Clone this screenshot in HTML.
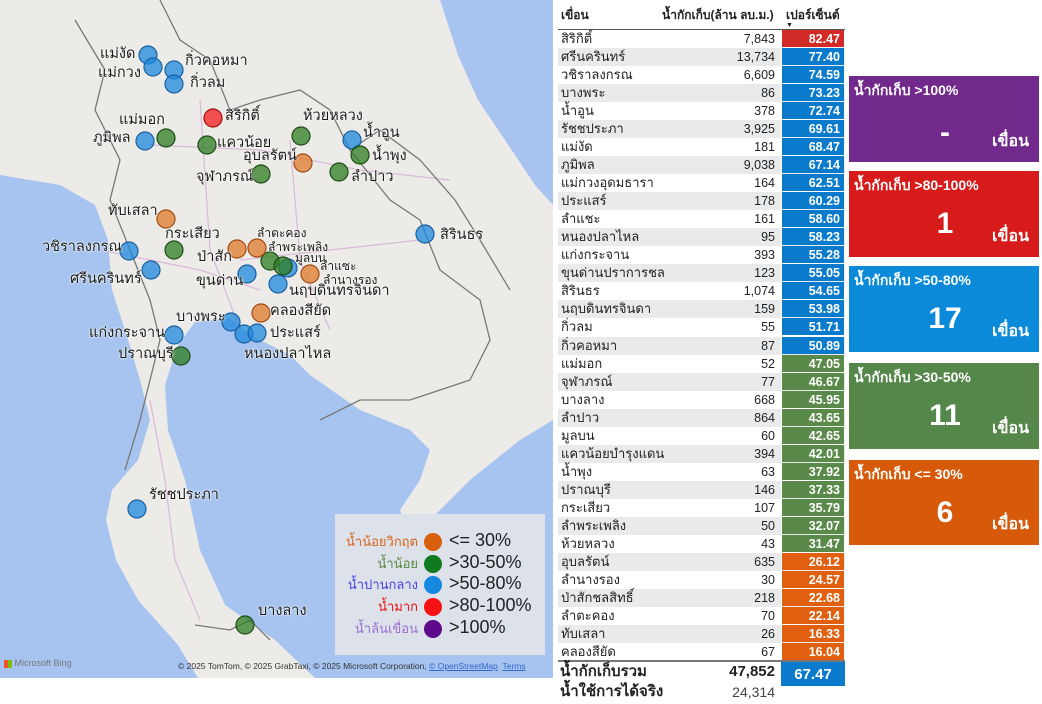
<!DOCTYPE html>
<html><head><meta charset="utf-8">
<style>
*{margin:0;padding:0;box-sizing:border-box}
body{width:1042px;height:704px;background:#fff;position:relative;overflow:hidden;font-family:"Liberation Sans","DejaVu Sans","Noto Sans CJK SC",sans-serif;color:#222}
.lbl{position:absolute;font-size:14.5px;color:#1a1a1a;white-space:nowrap;line-height:1;text-shadow:0 0 2px #fff,0 0 2px #fff}
.sm{font-size:12px}
.row{position:absolute;left:558px;width:287px;height:18px;font-size:13px;line-height:18px}
.row .n{position:absolute;left:3px}
.row .v{position:absolute;right:70px;font-size:12.5px}
.row .p{position:absolute;left:223px;width:63px;top:0;height:17px;color:#fff;font-weight:bold;text-align:right;padding-right:4px;font-size:12.5px;border-left:1px solid #fff}
.card{position:absolute;left:849px;width:190px;color:#fff;font-weight:bold}
.card .t{position:absolute;left:5px;top:4px;font-size:14px}
.card .num{position:absolute;left:0;width:192px;text-align:center;top:36px;font-size:30px;font-weight:bold}
.card .u{position:absolute;right:10px;bottom:8px;font-size:16px}
</style></head><body>
<svg width="553" height="678" style="position:absolute;left:0;top:0">
<rect width="553" height="678" fill="#ecebe7"/>
<path d="M0,175 L60,185 L95,205 L108,240 L112,290 L125,330 L140,380 L150,420 L138,460 L112,490 L106,520 L116,560 L138,600 L178,645 L198,678 L0,678Z" fill="#a6c4ef"/>
<path d="M165,385 L178,345 L195,322 L230,318 L250,335 L290,355 L310,375 L360,410 L410,430 L430,450 L420,480 L400,510 L405,525 L430,520 L470,480 L520,440 L553,420 L553,678 L315,678 L275,640 L225,605 L200,550 L185,480 L168,430Z" fill="#a6c4ef"/>
<path d="M440,0 L553,0 L553,205 L535,185 L505,140 L478,100 L458,55Z" fill="#a6c4ef"/>
<g fill="none" stroke="#d9b8d9" stroke-width="1.2">
<path d="M150,145 L260,150 L360,170 L450,180"/><path d="M200,100 L210,250 L240,330"/><path d="M240,260 L330,250 L420,240"/><path d="M290,140 L300,260 L330,330"/><path d="M100,250 L200,270 L260,290"/><path d="M150,400 L165,480 L175,560 L200,620"/>
</g>
<g fill="none" stroke="#777" stroke-width="1.3">
<path d="M75,20 L105,70 L95,110 L120,160 L110,200 L130,250 L150,300 L160,340 L150,380 L140,420 L125,470"/>
<path d="M160,0 L180,40 L210,60 L230,110 L260,100 L300,90 L330,110 L350,150 L390,200 L420,220 L440,270 L480,300 L490,340 L470,380 L410,400 L360,400 L320,420"/>
<path d="M350,150 L380,130 L420,160 L455,200 L480,240 L510,290"/>
<path d="M195,625 L230,630 L250,620 L270,640"/>
</g>
<g stroke-width="1.2" fill-opacity="0.75">
<g fill="#1e88dd" stroke="#1a5fa0">
<circle cx="148" cy="55" r="9"/><circle cx="153" cy="67" r="9"/><circle cx="174" cy="70" r="9"/><circle cx="174" cy="84" r="9"/>
<circle cx="145" cy="141" r="9"/><circle cx="352" cy="140" r="9"/><circle cx="129" cy="251" r="9"/><circle cx="151" cy="270" r="9"/>
<circle cx="288" cy="268" r="9"/><circle cx="247" cy="274" r="9"/><circle cx="278" cy="284" r="9"/><circle cx="231" cy="322" r="9"/>
<circle cx="244" cy="334" r="9"/><circle cx="257" cy="333" r="9"/><circle cx="174" cy="335" r="9"/><circle cx="425" cy="234" r="9"/><circle cx="137" cy="509" r="9"/>
</g>
<g fill="#2e7d22" stroke="#1e4a15">
<circle cx="166" cy="138" r="9"/><circle cx="207" cy="145" r="9"/><circle cx="301" cy="136" r="9"/><circle cx="360" cy="155" r="9"/>
<circle cx="339" cy="172" r="9"/><circle cx="261" cy="174" r="9"/><circle cx="174" cy="250" r="9"/><circle cx="270" cy="261" r="9"/>
<circle cx="283" cy="266" r="9"/><circle cx="181" cy="356" r="9"/><circle cx="245" cy="625" r="9"/>
</g>
<g fill="#e07a2a" stroke="#a04a10">
<circle cx="303" cy="163" r="9"/><circle cx="166" cy="219" r="9"/><circle cx="237" cy="249" r="9"/><circle cx="257" cy="248" r="9"/>
<circle cx="310" cy="274" r="9"/><circle cx="261" cy="313" r="9"/>
</g>
<circle cx="213" cy="118" r="9" fill="#f21b1b" stroke="#a01010"/>
</g>
</svg>
<div class="lbl" style="left:100px;top:47px">แม่งัด</div>
<div class="lbl" style="left:98px;top:66px">แม่กวง</div>
<div class="lbl" style="left:185px;top:54px">กิ่วคอหมา</div>
<div class="lbl" style="left:190px;top:76px">กิ่วลม</div>
<div class="lbl" style="left:225px;top:109px">สิริกิติ์</div>
<div class="lbl" style="left:119px;top:113px">แม่มอก</div>
<div class="lbl" style="left:93px;top:131px">ภูมิพล</div>
<div class="lbl" style="left:217px;top:136px">แควน้อย</div>
<div class="lbl" style="left:303px;top:109px">ห้วยหลวง</div>
<div class="lbl" style="left:363px;top:126px">น้ำอูน</div>
<div class="lbl" style="left:372px;top:149px">น้ำพุง</div>
<div class="lbl" style="left:243px;top:149px">อุบลรัตน์</div>
<div class="lbl" style="left:351px;top:170px">ลำปาว</div>
<div class="lbl" style="left:196px;top:170px">จุฬาภรณ์</div>
<div class="lbl" style="left:108px;top:204px">ทับเสลา</div>
<div class="lbl" style="left:165px;top:227px">กระเสียว</div>
<div class="lbl" style="left:42px;top:240px">วชิราลงกรณ</div>
<div class="lbl" style="left:70px;top:272px">ศรีนครินทร์</div>
<div class="lbl" style="left:197px;top:250px">ป่าสัก</div>
<div class="lbl sm" style="left:257px;top:227px">ลำตะคอง</div>
<div class="lbl sm" style="left:268px;top:241px">ลำพระเพลิง</div>
<div class="lbl sm" style="left:295px;top:252px">มูลบน</div>
<div class="lbl sm" style="left:320px;top:260px">ลำแซะ</div>
<div class="lbl sm" style="left:323px;top:274px">ลำนางรอง</div>
<div class="lbl" style="left:289px;top:284px">นฤบดินทรจินดา</div>
<div class="lbl" style="left:196px;top:274px">ขุนด่าน</div>
<div class="lbl" style="left:270px;top:304px">คลองสียัด</div>
<div class="lbl" style="left:176px;top:310px">บางพระ</div>
<div class="lbl" style="left:270px;top:326px">ประแสร์</div>
<div class="lbl" style="left:89px;top:326px">แก่งกระจาน</div>
<div class="lbl" style="left:118px;top:347px">ปราณบุรี</div>
<div class="lbl" style="left:244px;top:347px">หนองปลาไหล</div>
<div class="lbl" style="left:440px;top:228px">สิรินธร</div>
<div class="lbl" style="left:149px;top:488px">รัชชประภา</div>
<div class="lbl" style="left:258px;top:604px">บางลาง</div>

<div style="position:absolute;left:335px;top:514px;width:210px;height:141px;background:#dde1ea"></div>
<div style="position:absolute;left:335px;top:531px;width:83px;font-size:13px;line-height:21.7px;text-align:right">
<div style="color:#d8641a">น้ำน้อยวิกฤต</div><div style="color:#5a8a40">น้ำน้อย</div><div style="color:#4444dd">น้ำปานกลาง</div><div style="color:#ee1111">น้ำมาก</div><div style="color:#9a70d0">น้ำล้นเขื่อน</div></div>
<svg width="20" height="120" style="position:absolute;left:423px;top:530px">
<circle cx="10" cy="12" r="9" fill="#d8600c"/><circle cx="10" cy="34" r="9" fill="#0f7a1e"/><circle cx="10" cy="55" r="9" fill="#1588e0"/><circle cx="10" cy="77" r="9" fill="#f51212"/><circle cx="10" cy="99" r="9" fill="#5e0a8a"/></svg>
<div style="position:absolute;left:449px;top:530px;font-size:18px;line-height:21.7px">
<div>&lt;= 30%</div><div>&gt;30-50%</div><div>&gt;50-80%</div><div>&gt;80-100%</div><div>&gt;100%</div></div>
<div style="position:absolute;left:4px;top:658px;font-size:9px;color:#777"><span style="display:inline-block;width:8px;height:8px;background:linear-gradient(90deg,#f35325 50%,#81bc06 50%);vertical-align:middle"></span> Microsoft Bing</div>
<div style="position:absolute;left:178px;top:661px;font-size:8.5px;color:#333;white-space:nowrap">© 2025 TomTom, © 2025 GrabTaxi, © 2025 Microsoft Corporation, <u style="color:#3366cc">© OpenStreetMap</u> &nbsp;<u style="color:#3366cc">Terms</u></div>

<div style="position:absolute;left:561px;top:6px;font-size:12px;font-weight:bold">เขื่อน</div>
<div style="position:absolute;left:662px;top:6px;font-size:12px;font-weight:bold">น้ำกักเก็บ(ล้าน ลบ.ม.)</div>
<div style="position:absolute;left:786px;top:6px;font-size:12px;font-weight:bold">เปอร์เซ็นต์</div>
<div style="position:absolute;left:786px;top:22px;font-size:7px">▼</div>
<div style="position:absolute;left:558px;top:29px;width:287px;height:1px;background:#555"></div>
<div id="t"></div>
<div style="position:absolute;left:558px;top:660px;width:287px;height:2px;background:#777"></div>
<div style="position:absolute;left:560px;top:662px;font-size:15px;font-weight:bold;line-height:20px">น้ำกักเก็บรวม<br>น้ำใช้การได้จริง</div>
<div style="position:absolute;right:267px;top:662px;font-size:15px;line-height:20px;text-align:right"><b>47,852</b><br><span style="font-size:14px;color:#444">24,314</span></div>
<div style="position:absolute;left:781px;top:662px;width:64px;height:24px;background:#0a7acd;color:#fff;font-weight:bold;font-size:15px;text-align:center;line-height:25px">67.47</div>

<div class="card" style="top:76px;height:86px;background:#712a8b"><div class="t">น้ำกักเก็บ &gt;100%</div><div class="num" style="top:40px">-</div><div class="u">เขื่อน</div></div>
<div class="card" style="top:171px;height:86px;background:#d71a1a"><div class="t">น้ำกักเก็บ &gt;80-100%</div><div class="num">1</div><div class="u">เขื่อน</div></div>
<div class="card" style="top:266px;height:86px;background:#0a8ad8"><div class="t">น้ำกักเก็บ &gt;50-80%</div><div class="num">17</div><div class="u">เขื่อน</div></div>
<div class="card" style="top:363px;height:86px;background:#55874a"><div class="t">น้ำกักเก็บ &gt;30-50%</div><div class="num">11</div><div class="u">เขื่อน</div></div>
<div class="card" style="top:460px;height:85px;background:#d65a0a"><div class="t">น้ำกักเก็บ &lt;= 30%</div><div class="num">6</div><div class="u">เขื่อน</div></div>

<script>
var d=[["สิริกิติ์","7,843","82.47"],["ศรีนครินทร์","13,734","77.40"],["วชิราลงกรณ","6,609","74.59"],["บางพระ","86","73.23"],["น้ำอูน","378","72.74"],["รัชชประภา","3,925","69.61"],["แม่งัด","181","68.47"],["ภูมิพล","9,038","67.14"],["แม่กวงอุดมธารา","164","62.51"],["ประแสร์","178","60.29"],["ลำแชะ","161","58.60"],["หนองปลาไหล","95","58.23"],["แก่งกระจาน","393","55.28"],["ขุนด่านปราการชล","123","55.05"],["สิรินธร","1,074","54.65"],["นฤบดินทรจินดา","159","53.98"],["กิ่วลม","55","51.71"],["กิ่วคอหมา","87","50.89"],["แม่มอก","52","47.05"],["จุฬาภรณ์","77","46.67"],["บางลาง","668","45.95"],["ลำปาว","864","43.65"],["มูลบน","60","42.65"],["แควน้อยบำรุงแดน","394","42.01"],["น้ำพุง","63","37.92"],["ปราณบุรี","146","37.33"],["กระเสียว","107","35.79"],["ลำพระเพลิง","50","32.07"],["ห้วยหลวง","43","31.47"],["อุบลรัตน์","635","26.12"],["ลำนางรอง","30","24.57"],["ป่าสักชลสิทธิ์","218","22.68"],["ลำตะคอง","70","22.14"],["ทับเสลา","26","16.33"],["คลองสียัด","67","16.04"]];
var h="";
d.forEach(function(r,i){var p=parseFloat(r[2]);var c=p>80?"#d22a26":p>50?"#0a7acd":p>30?"#5a8a4a":"#e0600f";
h+='<div class="row" style="top:'+(30+i*18.03)+'px;background:'+(i%2?'#e9eaec':'#fff')+'"><span class="n">'+r[0]+'</span><span class="v">'+r[1]+'</span><span class="p" style="background:'+c+'">'+r[2]+'</span></div>';});
document.getElementById("t").innerHTML=h;
</script>
</body></html>
